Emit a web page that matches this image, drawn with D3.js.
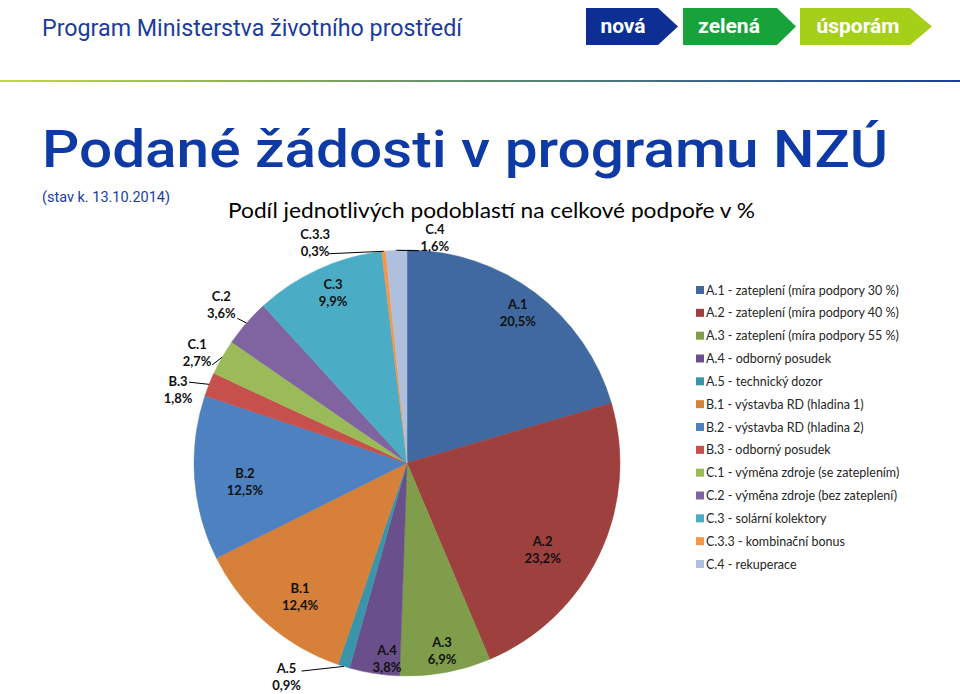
<!DOCTYPE html>
<html><head><meta charset="utf-8">
<script src="https://cdn.jsdelivr.net/npm/d3@7"></script>
<style>
html,body{margin:0;padding:0;background:#fff;}
svg{display:block;}
</style></head>
<body>
<svg id="chart" width="960" height="694"></svg>
<script>
// ---- data ----
const codes = ["A.1","A.2","A.3","A.4","A.5","B.1","B.2","B.3","C.1","C.2","C.3","C.3.3","C.4"];
const names = [
  "zateplení (míra podpory 30 %)",
  "zateplení (míra podpory 40 %)",
  "zateplení (míra podpory 55 %)",
  "odborný posudek",
  "technický dozor",
  "výstavba RD (hladina 1)",
  "výstavba RD (hladina 2)",
  "odborný posudek",
  "výměna zdroje (se zateplením)",
  "výměna zdroje (bez zateplení)",
  "solární kolektory",
  "kombinační bonus",
  "rekuperace"
];
const shares = [20.5, 23.2, 6.9, 3.8, 0.9, 12.4, 12.5, 1.8, 2.7, 3.6, 9.9, 0.3, 1.6];
const shareLabels = ["20,5%","23,2%","6,9%","3,8%","0,9%","12,4%","12,5%","1,8%","2,7%","3,6%","9,9%","0,3%","1,6%"];

// ---- styles / layout (not data) ----
const colors = ["#3F69A0","#9E403D","#7F9D4B","#6A508B","#3A94AA","#D7803A","#4E81C0","#C6504C","#9BBB59","#8064A2","#4BACC6","#F79646","#AFC0DC"];
// label placement: polar angle (deg from 12 o'clock, clockwise) and radius factor
const labelAngle = [36.1, 122, 169.3, 185.9, 209.6, 219, 264, 288.1, 298.1, 310.7, 336.7, 337.5, 7];
const labelRadius = [0.883, 0.751, 0.887, 0.915, 1.145, 0.798, 0.765, 1.131, 1.117, 1.150, 0.878, 1.127, 1.075];
// leader lines: start offset from label anchor, or null
const leaderStart = [null,null,null,null,[15,-4],null,null,[11,-6],[15,14],[16,15],null,[14,12.5],[-16,15]];

const svg = d3.select("#chart");
const W = 960, H = 694;

// ---- header ----
svg.append("text").attr("x",42).attr("y",36)
  .attr("font-family","Roboto, 'Liberation Sans Narrow', sans-serif").attr("font-size",23)
  .attr("fill","#1B3C9D").attr("textLength",420).attr("lengthAdjust","spacingAndGlyphs")
  .text("Program Ministerstva životního prostředí");

const logo = [
  {t:"nová", x0:586, x1:658, tip:678, c:"#0D2F94", tx:623},
  {t:"zelená", x0:683, x1:777, tip:796, c:"#17A33A", tx:729},
  {t:"úsporám", x0:800, x1:910, tip:932, c:"#A6CF1A", tx:858}
];
const ly0 = 8, ly1 = 45;
logo.forEach(l=>{
  svg.append("path")
    .attr("d",`M${l.x0},${ly0}L${l.x1},${ly0}L${l.tip},${(ly0+ly1)/2}L${l.x1},${ly1}L${l.x0},${ly1}Z`)
    .attr("fill",l.c);
  svg.append("text").attr("x",l.tx).attr("y",33).attr("text-anchor","middle")
    .attr("font-family","Roboto, sans-serif").attr("font-weight",700).attr("font-size",21)
    .attr("fill","#fff").text(l.t);
});

// gradient rule
const defs = svg.append("defs");
const grad = defs.append("linearGradient").attr("id","rule").attr("x1","0%").attr("x2","100%");
grad.append("stop").attr("offset","0%").attr("stop-color","#C2DA3A");
grad.append("stop").attr("offset","50%").attr("stop-color","#5E8C6E");
grad.append("stop").attr("offset","100%").attr("stop-color","#1B3DA2");
svg.append("rect").attr("x",0).attr("y",80).attr("width",W).attr("height",2).attr("fill","url(#rule)");

// main title
svg.append("text").attr("x",42).attr("y",167)
  .attr("font-family","Roboto, sans-serif").attr("font-weight",500).attr("font-size",52)
  .attr("fill","#0E3AA6").attr("textLength",846).attr("lengthAdjust","spacingAndGlyphs")
  .text("Podané žádosti v programu NZÚ");

svg.append("text").attr("x",42).attr("y",202)
  .attr("font-family","Roboto, sans-serif").attr("font-size",15)
  .attr("fill","#1B3C9D").attr("textLength",128).attr("lengthAdjust","spacingAndGlyphs")
  .text("(stav k. 13.10.2014)");

svg.append("text").attr("x",228).attr("y",218)
  .attr("font-family","Lato, 'Open Sans', sans-serif").attr("font-size",21)
  .attr("fill","#000").attr("textLength",527).attr("lengthAdjust","spacingAndGlyphs")
  .text("Podíl jednotlivých podoblastí na celkové podpoře v %");

// ---- pie ----
const cx = 407, cy = 463, R = 213;
const pie = d3.pie().sort(null).value(d=>d).startAngle(0).endAngle(2*Math.PI);
const arcs = pie(shares);
const arc = d3.arc().innerRadius(0).outerRadius(R);
const g = svg.append("g").attr("transform",`translate(${cx},${cy})`);
g.selectAll("path.slice").data(arcs).enter().append("path")
  .attr("class","slice").attr("d",arc)
  .attr("fill",(d,i)=>colors[i]).attr("stroke",(d,i)=>colors[i]).attr("stroke-width",0.5);

// labels
const toRad = d3.scaleLinear().domain([0,360]).range([0,2*Math.PI]);
arcs.forEach((a,i)=>{
  const ang = toRad(labelAngle[i]);
  const r = labelRadius[i]*R;
  const lx = Math.sin(ang)*r, lyy = -Math.cos(ang)*r;
  if (leaderStart[i]) {
    const mid = (a.startAngle+a.endAngle)/2;
    const ex = Math.sin(mid)*R, ey = -Math.cos(mid)*R;
    g.append("line").attr("x1",lx+leaderStart[i][0]).attr("y1",lyy+leaderStart[i][1])
      .attr("x2",ex).attr("y2",ey).attr("stroke","#000").attr("stroke-width",1);
  }
  const t = g.append("text").attr("text-anchor","middle")
    .attr("font-family","Lato, 'Open Sans', sans-serif").attr("font-weight",700).attr("font-size",13)
    .attr("fill","#111");
  t.append("tspan").attr("x",lx).attr("y",lyy-2).text(codes[i]);
  t.append("tspan").attr("x",lx).attr("y",lyy+15).text(shareLabels[i]);
});

// ---- legend ----
const leg = svg.append("g");
const ly = d3.scaleLinear().domain([0,codes.length-1]).range([290,564]);
codes.forEach((c,i)=>{
  leg.append("rect").attr("x",696).attr("y",ly(i)-4).attr("width",8).attr("height",8).attr("fill",colors[i]);
  leg.append("text").attr("x",706).attr("y",ly(i)+4.5)
    .attr("font-family","Lato, 'Open Sans', sans-serif").attr("font-size",12.5)
    .attr("fill","#262626").text(c+" - "+names[i]);
});
</script>
</body></html>
